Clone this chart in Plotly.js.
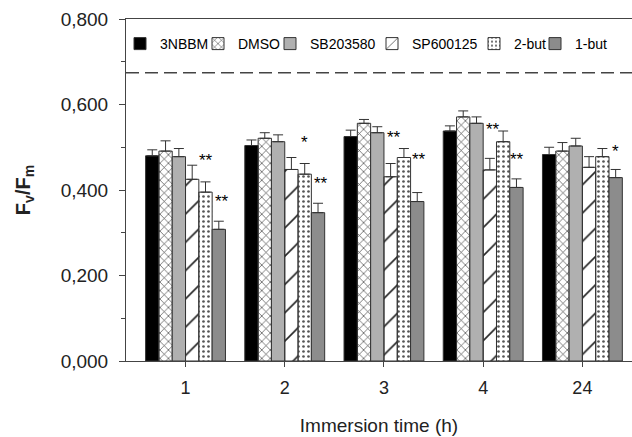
<!DOCTYPE html>
<html><head><meta charset="utf-8">
<script src="https://cdn.plot.ly/plotly-3.0.1.min.js"></script>
<style>body{margin:0;background:#fff}#c{width:632px;height:437px}</style>
</head><body><div id="c"></div>
<script>
const categories = ["1", "2", "3", "4", "24"];
const seriesNames = ["3NBBM", "DMSO", "SB203580", "SP600125", "2-but", "1-but"];
const v3NBBM   = [0.480, 0.504, 0.525, 0.538, 0.483];
const vDMSO    = [0.491, 0.521, 0.556, 0.571, 0.491];
const vSB      = [0.478, 0.513, 0.534, 0.556, 0.503];
const vSP      = [0.425, 0.448, 0.431, 0.447, 0.453];
const v2but    = [0.395, 0.437, 0.476, 0.513, 0.478];
const v1but    = [0.308, 0.347, 0.373, 0.406, 0.429];
const e3NBBM   = [0.014, 0.013, 0.015, 0.012, 0.017];
const eDMSO    = [0.024, 0.013, 0.009, 0.014, 0.020];
const eSB      = [0.019, 0.016, 0.014, 0.015, 0.018];
const eSP      = [0.033, 0.028, 0.031, 0.027, 0.025];
const e2but    = [0.024, 0.025, 0.021, 0.025, 0.019];
const e1but    = [0.019, 0.022, 0.021, 0.020, 0.019];
const sig2but  = ["**", "*", "**", "**", ""];
const sig1but  = ["**", "**", "**", "**", "*"];
const controlLine = 0.674;

const values = [v3NBBM, vDMSO, vSB, vSP, v2but, v1but];
const errs = [e3NBBM, eDMSO, eSB, eSP, e2but, e1but];
const styles = [
  {color:"#000000", pattern:{shape:""}},
  {color:"#ffffff", pattern:{shape:"x", size:6, solidity:0.2, fgcolor:"#333"}},
  {color:"#b0b0b0", pattern:{shape:""}},
  {color:"#ffffff", pattern:{shape:"/", size:20, solidity:0.08, fgcolor:"#222"}},
  {color:"#ffffff", pattern:{shape:".", size:5, solidity:0.22, fgcolor:"#555"}},
  {color:"#8c8c8c", pattern:{shape:""}}
];
// legend text start positions (pixels) -> paper fractions
const plotL = 126, plotW = 506, plotB = 361, plotH = 342;
const legendTextX = [160, 238, 310, 412, 514, 575];
const legendIds = ["legend","legend2","legend3","legend4","legend5","legend6"];

const xs = categories.map((c,i)=>i);
const gap = 0.195;
const bw = (1-gap)/6;
const traces = seriesNames.map((n,k)=>({
  type:"bar", name:n, x:xs, y:values[k], legend: legendIds[k],
  marker:{color:styles[k].color, pattern:styles[k].pattern, line:{color:"#333", width:1}},
  error_y:{type:"data", array:errs[k], symmetric:false, arrayminus:xs.map(()=>0), color:"#333", thickness:1, width:5}
}));
const starXShift = {4:[0,0,-10,-10,0], 5:[3,3,2,1,0]};
const starYShift = {4:[10,10,0,-10,0], 5:[8,8,22,8,6]};
const annotations = [];
[[4, sig2but],[5, sig1but]].forEach(([k, sig])=>{
  sig.forEach((s,i)=>{
    if(!s) return;
    annotations.push({x: i + (k-2.5)*bw, y: values[k][i]+errs[k][i], text:s, showarrow:false,
      xanchor:"center", yanchor:"bottom", xshift:starXShift[k][i], yshift:starYShift[k][i],
      font:{family:"Liberation Sans", size:17, color:"#000"}});
  });
});
const layout = {
  width:632, height:437,
  margin:{l:126, r:0, t:19, b:76},
  paper_bgcolor:"#fff", plot_bgcolor:"#fff",
  separators:",.",
  font:{family:"Liberation Sans, Arial, sans-serif", color:"#222"},
  barmode:"group", bargap:gap, bargroupgap:0,
  showlegend:true,
  xaxis:{range:[-0.6,4.5], tickvals:xs, ticktext:categories, showline:true, linecolor:"#444", linewidth:1, mirror:true,
    ticks:"outside", ticklen:5, tickcolor:"#444", showgrid:false, zeroline:false, ticklabelstandoff:5,
    tickfont:{size:18, color:"#222"}, title:{text:"Immersion time (h)", font:{size:19, color:"#222"}, standoff:22}},
  yaxis:{range:[0,0.8], tickvals:[0,0.2,0.4,0.6,0.8], tickformat:".3f", showline:true, linecolor:"#444", linewidth:1, mirror:true,
    ticks:"outside", ticklen:6, tickcolor:"#444", showgrid:false, zeroline:false, ticklabelstandoff:7,
    minor:{tickvals:[0.1,0.3,0.5,0.7], ticks:"outside", ticklen:4, tickcolor:"#444"},
    tickfont:{size:19, color:"#222"}, title:{text:"<b>F<sub>v</sub>/F<sub>m</sub></b>", font:{size:20, color:"#222"}, standoff:24}},
  shapes:[{type:"line", xref:"paper", x0:0, x1:1, yref:"y", y0:controlLine, y1:controlLine, line:{color:"#444", width:1.5, dash:"13px,6px"}}],
  annotations: annotations
};
legendIds.forEach((id,k)=>{
  layout[id] = {orientation:"h", x:(legendTextX[k]-40-plotL)/plotW, xanchor:"left", y:(plotB-44)/plotH, yanchor:"middle",
    font:{size:14, color:"#000"}, itemwidth:30, bgcolor:"rgba(0,0,0,0)", borderwidth:0};
});
Plotly.newPlot("c", traces, layout, {displayModeBar:false, staticPlot:true});
</script></body></html>
